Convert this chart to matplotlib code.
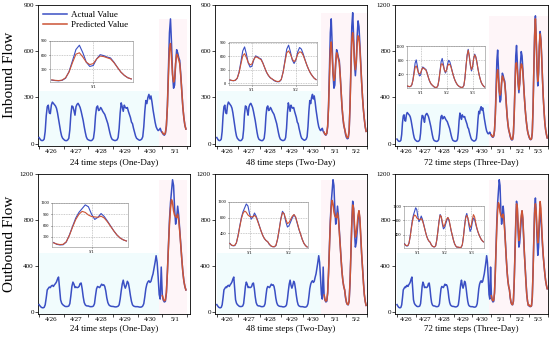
import numpy as np
import matplotlib
matplotlib.use("Agg")
import matplotlib.pyplot as plt

plt.rcParams['font.family'] = ['Liberation Serif', 'DejaVu Serif']

day_labels = ["4/26", "4/27", "4/28", "4/29", "4/30", "5/1", "5/2", "5/3"]
col_titles = ["24 time steps (One-Day)", "48 time steps (Two-Day)", "72 time steps (Three-Day)"]
row_titles = ["Inbound Flow", "Outbound Flow"]

# hourly actual inbound flow, 4/26 .. 5/3
inbound_actual = [
    40, 30, 22, 20, 22, 30, 80, 180, 240, 250, 200, 195, 250, 270, 262, 255, 245, 230, 200, 160, 120, 80, 50, 35,
    28, 22, 20, 20, 25, 35, 90, 190, 245, 240, 215, 185, 240, 255, 262, 250, 235, 210, 180, 150, 110, 75, 45, 30,
    25, 22, 20, 20, 25, 35, 85, 180, 235, 245, 215, 220, 235, 225, 210, 200, 190, 170, 150, 130, 100, 70, 45, 30,
    25, 22, 20, 22, 25, 40, 100, 200, 265, 240, 210, 250, 235, 230, 235, 210, 190, 170, 140, 130, 100, 75, 50, 35,
    30, 25, 22, 25, 30, 45, 110, 210, 280, 260, 300, 320, 290, 310, 270, 220, 180, 140, 110, 95, 85, 90, 100, 80,
    70, 60, 55, 65, 110, 250, 480, 720, 810, 650, 450, 360, 380, 520, 610, 590, 560, 540, 450, 340, 240, 170, 120, 95,
    60, 40, 32, 35, 80, 250, 500, 760, 850, 700, 520, 441, 520, 700, 797, 760, 650, 520, 400, 300, 220, 160, 110, 80,
    55, 40, 35, 40, 90, 300, 650, 950, 1106, 900, 650, 500, 600, 850, 971, 900, 750, 560, 400, 280, 180, 120, 80, 50,
]
# hourly actual outbound flow, 4/26 .. 5/3
outbound_actual = [
    62, 50, 40, 35, 34, 38, 60, 120, 190, 203, 215, 210, 225, 230, 220, 235, 245, 260, 285, 302, 200, 104, 75, 62,
    55, 48, 45, 45, 46, 50, 70, 140, 220, 258, 240, 210, 215, 210, 212, 220, 245, 250, 200, 130, 80, 60, 52, 50,
    50, 46, 44, 44, 45, 50, 70, 140, 200, 220, 215, 210, 225, 240, 230, 235, 220, 180, 120, 80, 60, 52, 48, 46,
    46, 44, 42, 42, 44, 48, 60, 110, 180, 240, 275, 230, 205, 230, 265, 250, 200, 140, 90, 60, 50, 46, 44, 44,
    44, 42, 40, 40, 42, 50, 70, 130, 200, 240, 260, 270, 255, 265, 300, 330, 380, 430, 488, 430, 300, 150, 110, 389,
    150, 100, 85, 90, 160, 350, 580, 800, 950, 1050, 1150, 1100, 900, 763, 820, 920, 840, 720, 590, 460, 350, 270, 220, 190,
    120, 80, 63, 60, 90, 250, 500, 780, 963, 900, 700, 563, 600, 700, 800, 877, 800, 650, 500, 380, 250, 150, 90, 55,
    50, 45, 45, 50, 120, 350, 650, 900, 991, 850, 650, 491, 560, 750, 863, 830, 700, 580, 480, 400, 330, 270, 230, 200,
]

# predictions (start 5/1 00:00)
inbound_pred_1day = [75, 65, 60, 70, 120, 240, 440, 620, 650, 560, 450, 400, 420, 520, 580, 570, 545, 520, 440, 340, 240, 170, 120, 95]
inbound_pred_2day = [
    75, 62, 58, 68, 115, 235, 430, 610, 660, 570, 460, 410, 430, 530, 590, 575, 550, 525, 445, 345, 245, 175, 125, 95,
    70, 48, 38, 42, 85, 240, 470, 680, 720, 650, 540, 480, 530, 650, 700, 690, 620, 510, 400, 300, 220, 160, 110, 80,
]
inbound_pred_3day = [
    78, 65, 60, 70, 118, 238, 420, 600, 640, 560, 455, 420, 440, 530, 585, 570, 548, 520, 440, 340, 245, 175, 125, 95,
    68, 46, 36, 40, 88, 245, 480, 690, 700, 640, 530, 470, 520, 640, 690, 680, 620, 510, 400, 300, 220, 160, 110, 80,
    60, 42, 36, 42, 95, 310, 640, 930, 1080, 920, 680, 540, 620, 840, 950, 890, 740, 560, 400, 280, 180, 120, 80, 50,
]
outbound_pred_1day = [140, 110, 95, 100, 170, 340, 560, 760, 900, 977, 950, 880, 840, 830, 820, 850, 800, 700, 580, 460, 350, 270, 220, 190]
outbound_pred_2day = [
    145, 105, 92, 98, 165, 335, 560, 770, 910, 970, 940, 870, 835, 825, 820, 860, 810, 700, 580, 460, 350, 270, 220, 190,
    130, 85, 65, 62, 95, 260, 500, 760, 930, 900, 760, 650, 680, 760, 840, 880, 820, 670, 510, 380, 250, 150, 90, 55,
]
outbound_pred_3day = [
    140, 108, 95, 100, 170, 330, 550, 750, 890, 950, 930, 870, 840, 830, 820, 850, 800, 700, 580, 460, 350, 270, 220, 190,
    125, 82, 64, 62, 92, 255, 490, 750, 940, 910, 760, 620, 660, 760, 840, 880, 820, 670, 510, 380, 250, 150, 90, 55,
    60, 48, 46, 52, 125, 340, 620, 860, 940, 870, 720, 600, 660, 820, 960, 900, 740, 600, 490, 400, 330, 270, 230, 200,
]

actuals = [inbound_actual, outbound_actual]
preds = [[inbound_pred_1day, inbound_pred_2day, inbound_pred_3day],
         [outbound_pred_1day, outbound_pred_2day, outbound_pred_3day]]

BLUE = "#3a4fc4"
RED = "#cc5436"
W, H = 550, 338

def rect(x0, y0, x1, y1):
    return [x0 / W, 1 - y1 / H, (x1 - x0) / W, (y1 - y0) / H]

main_boxes = [
    [(38, 5, 190, 146), (215, 5, 367, 146), (395, 5, 548, 146)],
    [(38, 174, 190, 314), (215, 174, 367, 314), (395, 174, 548, 314)],
]
inset_boxes = [
    [(50, 41, 133, 82), (229, 42, 317, 85), (407, 46, 485, 88)],
    [(52, 203, 128, 247), (229, 202, 308, 248), (404, 206, 484, 248)],
]
xlims = [(-1, 147), (-2, 166), (-2.5, 188)]
ylims_main = [[(-15, 900), (-15, 900), (-20, 1200)], [(-20, 1200)] * 3]
yticks_main = [[[0, 300, 600, 900]] * 2 + [[0, 400, 800, 1200]], [[0, 400, 800, 1200]] * 3]
inset_ylims = [[(30, 900), (-40, 920), (20, 1200)], [(30, 1200), (30, 1200), (30, 1200)]]
inset_yticks = [[[300, 600, 900], [0, 300, 600, 900], [400, 800, 1200]],
                [[300, 600, 900, 1200], [400, 800, 1200], [400, 800, 1200]]]
xlabel_y = [163, 329]
hist_days = 5

fig = plt.figure(figsize=(5.5, 3.38), dpi=100)

for r in range(2):
    act = np.array(actuals[r], dtype=float)
    for c in range(3):
        ndays = hist_days + c + 1
        n = ndays * 24
        t = np.arange(n)
        y = act[:n]
        p = np.array(preds[r][c], dtype=float)
        tp = np.arange(hist_days * 24, hist_days * 24 + len(p))
        ax = fig.add_axes(rect(*main_boxes[r][c]))
        ylo, yhi = ylims_main[r][c]
        # faint shading of history / prediction windows
        hist_top = (max(y[:hist_days * 24]) + 20 - ylo) / (yhi - ylo)
        pred_top = (max(max(y[hist_days * 24:]), max(p)) - ylo) / (yhi - ylo)
        ax.axvspan(0, hist_days * 24, ymin=0, ymax=hist_top, color="#f1fcfd", lw=0, zorder=0)
        ax.axvspan(hist_days * 24 - 3, n, ymin=0, ymax=pred_top, color="#fef5f8", lw=0, zorder=0)
        ax.plot(t, y, color=BLUE, lw=1.1, zorder=3, label="Actual Value")
        ax.plot(tp, p, color=RED, lw=1.1, zorder=4, label="Predicted Value")
        ax.set_xlim(*xlims[c])
        ax.set_ylim(ylo, yhi)
        ax.set_yticks(yticks_main[r][c])
        ax.tick_params(axis="y", labelsize=5, length=2, width=0.5, pad=1, direction="out")
        ax.set_xticks(np.arange(0, n + 1, 24))
        ax.set_xticklabels([])
        ax.set_xticks(np.arange(12, n, 24), minor=True)
        ax.set_xticklabels(day_labels[:ndays], minor=True)
        ax.tick_params(axis="x", which="major", length=2, width=0.5, direction="out")
        ax.tick_params(axis="x", which="minor", length=0, labelsize=5, pad=2)
        for s in ax.spines.values():
            s.set_linewidth(0.6)
        x0, y0, x1, y1 = main_boxes[r][c]
        fig.text((x0 + x1) / 2 / W, 1 - xlabel_y[r] / H, col_titles[c],
                 ha="center", va="center", fontsize=6.5)
        if r == 0 and c == 0:
            ax.legend(loc="upper left", fontsize=6.5, frameon=False, handlelength=2.6,
                      borderaxespad=0.2, labelspacing=0.25, handletextpad=0.5)

        # inset: zoom on prediction window
        ia = fig.add_axes(rect(*inset_boxes[r][c]))
        ia.plot(tp, y[hist_days * 24:], color=BLUE, lw=0.8, zorder=3)
        ia.plot(tp, p, color=RED, lw=0.8, zorder=4)
        ia.set_xlim(tp[0] - 0.5, tp[-1] + 0.5)
        ia.set_ylim(*inset_ylims[r][c])
        ia.set_yticks(inset_yticks[r][c])
        centers = np.arange(hist_days * 24 + 12, n, 24)
        ia.set_xticks(centers)
        ia.set_xticklabels(day_labels[hist_days:ndays])
        ia.tick_params(labelsize=3.2, length=1, width=0.4, pad=1)
        ia.grid(True, color="#9a9a9a", lw=0.4, ls=(0, (1.5, 1.5)))
        for s in ia.spines.values():
            s.set_linewidth(0.4)
            s.set_color("#888888")

fig.text(10 / W, 1 - 75 / H, row_titles[0], rotation=90, ha="center", va="center", fontsize=11)
fig.text(10 / W, 1 - 244 / H, row_titles[1], rotation=90, ha="center", va="center", fontsize=11)

fig.savefig("out.png", dpi=100)
